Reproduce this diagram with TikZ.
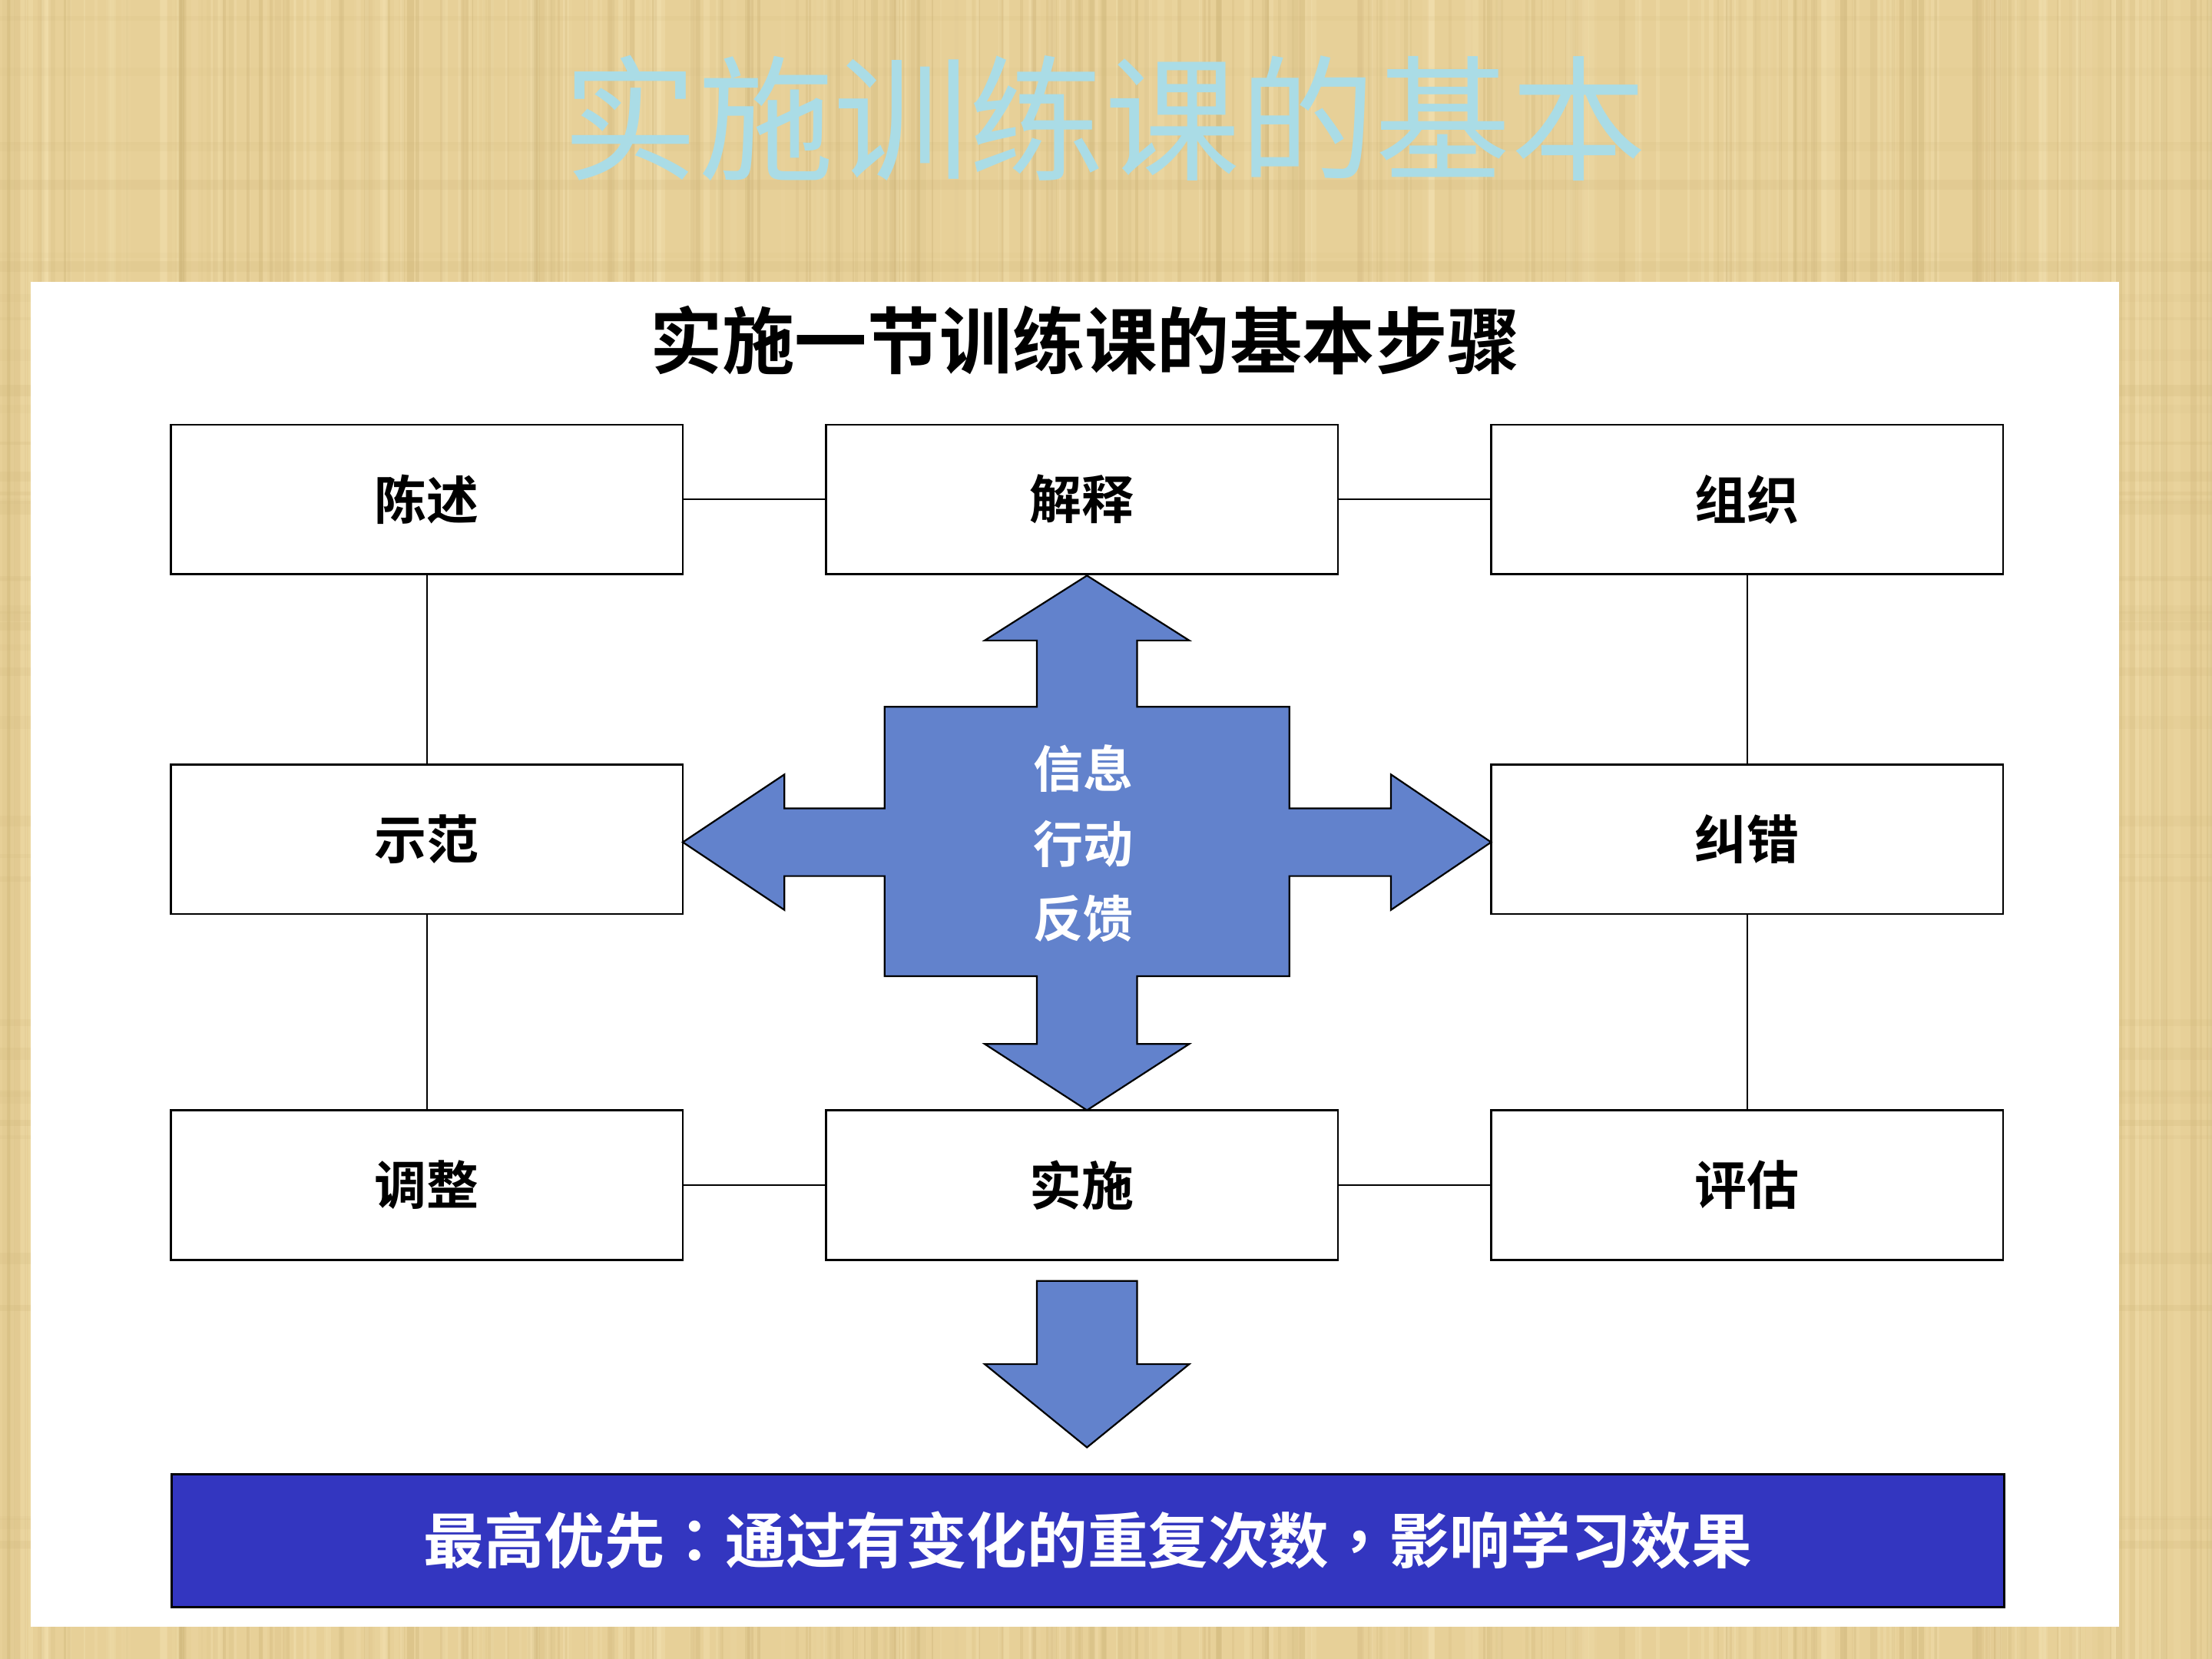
\documentclass[tikz,border=0pt]{standalone}
\usepackage{fontspec}
\newfontfamily\cjk{Noto Sans CJK SC}
\newfontfamily\cjkb{Noto Sans CJK SC Bold}
\newfontfamily\cjktcb{Noto Sans CJK TC Bold}
\definecolor{tanbase}{RGB}{231,208,152}
\definecolor{tanlight}{RGB}{245,228,180}
\definecolor{tandark}{RGB}{205,180,120}
\definecolor{titlecyan}{RGB}{170,220,230}
\definecolor{arrowblue}{RGB}{98,130,204}
\definecolor{barblue}{RGB}{51,54,192}
\tikzset{
  stepbox/.style={draw=black, line width=0.7pt, fill=white, minimum width=181.5pt, minimum height=53pt, inner sep=0pt, font=\cjkb\fontsize{18.5}{20}\selectfont},
  link/.style={draw=black, line width=0.6pt},
  bigarrow/.style={draw=black, line width=0.6pt, fill=arrowblue, line join=miter},
}
\begin{document}
\begin{tikzpicture}[x=0.5pt, y=-0.5pt]
\useasboundingbox (0,0) rectangle (1568,1176);
% textured background
\fill[tanbase] (0,0) rectangle (1568,1176);
\pgfmathsetseed{11}
\foreach \i in {1,...,420}{
  \pgfmathsetmacro\xx{random(0,1568)}
  \pgfmathsetmacro\op{0.08+0.3*rnd}
  \pgfmathsetmacro\ww{0.4+2.2*rnd}
  \pgfmathtruncatemacro\kk{mod(\i,2)}
  \ifnum\kk=0
    \draw[tanlight, line width=\ww pt, opacity=\op] (\xx,0) -- (\xx,1176);
  \else
    \draw[tandark, line width=\ww pt, opacity=\op] (\xx,0) -- (\xx,1176);
  \fi
}
\foreach \i in {1,...,40}{
  \pgfmathsetmacro\yy{random(0,1176)}
  \pgfmathsetmacro\op{0.05+0.15*rnd}
  \pgfmathsetmacro\ww{1+4*rnd}
  \draw[tandark, line width=\ww pt, opacity=\op] (0,\yy) -- (1568,\yy);
}
% title
\node[text=titlecyan, font=\cjk\fontsize{48}{50}\selectfont, inner sep=0pt] (title) at (783,84) {实施训练课的基本};
% white panel
\fill[white] (22,200) rectangle (1502,1153);
% subtitle
\node[font=\cjkb\fontsize{25.7}{28}\selectfont, inner sep=0pt] (subtitle) at (769,241) {实施一节训练课的基本步骤};
% boxes
\node[stepbox] (chenshu) at (302.5,354) {陈述};
\node[stepbox] (jieshi)  at (767,354)   {解释};
\node[stepbox] (zuzhi)   at (1238.5,354){组织};
\node[stepbox] (shifan)  at (302.5,595) {示范};
\node[stepbox] (jiucuo)  at (1238.5,595){纠错};
\node[stepbox] (tiaozheng) at (302.5,840) {调整};
\node[stepbox] (shishi)  at (767,840)   {实施};
\node[stepbox] (pinggu)  at (1238.5,840){评估};
% connectors
\draw[link] (chenshu) -- (jieshi);
\draw[link] (jieshi) -- (zuzhi);
\draw[link] (tiaozheng) -- (shishi);
\draw[link] (shishi) -- (pinggu);
\draw[link] (chenshu) -- (shifan);
\draw[link] (shifan) -- (tiaozheng);
\draw[link] (zuzhi) -- (jiucuo);
\draw[link] (jiucuo) -- (pinggu);
% central cross arrow
\draw[bigarrow]
  (770.5,408) -- (843,454) -- (806,454) -- (806,501) -- (914,501) -- (914,573)
  -- (986,573) -- (986,549) -- (1057,597) -- (986,645) -- (986,621) -- (914,621)
  -- (914,692) -- (806,692) -- (806,740) -- (843,740) -- (770.5,787) -- (698,740)
  -- (735,740) -- (735,692) -- (627,692) -- (627,621) -- (556,621) -- (556,645)
  -- (484,597) -- (556,549) -- (556,573) -- (627,573) -- (627,501) -- (735,501)
  -- (735,454) -- (698,454) -- cycle;
\node[text=white, font=\cjkb\fontsize{17.7}{26.5}\selectfont, align=center, inner sep=0pt] (core) at (768,598) {信息\\行动\\反馈};
% bottom arrow
\draw[bigarrow]
  (735,908) -- (806,908) -- (806,967) -- (843,967) -- (770.5,1026) -- (698,967) -- (735,967) -- cycle;
% bottom bar
\node[draw=black, line width=0.8pt, fill=barblue, minimum width=649.5pt, minimum height=47pt, inner sep=0pt, text=white, font=\cjkb\fontsize{21.4}{24}\selectfont] (bar) at (771,1092) {最高优先{\cjktcb ：}通过有变化的重复次数{\cjktcb ，}影响学习效果};
\end{tikzpicture}
\end{document}
